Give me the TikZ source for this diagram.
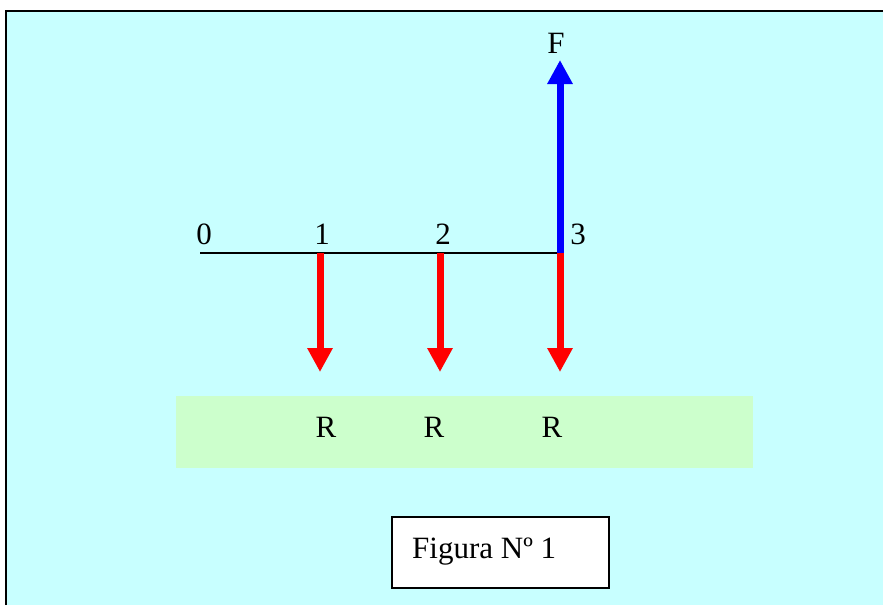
\documentclass[tikz,border=0pt]{standalone}
\usepackage{fontspec}
\setmainfont{Liberation Serif}
\usetikzlibrary{arrows.meta}
\definecolor{bgcyan}{RGB}{200,255,255}
\definecolor{bggreen}{RGB}{204,255,204}
\definecolor{fred}{RGB}{255,0,0}
\definecolor{fblue}{RGB}{0,0,255}
\tikzset{
  lbl/.style={inner sep=0pt, font=\fontsize{31}{36}\selectfont},
  force/.style={line width=7pt, -{Triangle[width=24pt,length=24pt]}},
}
\begin{document}
\begin{tikzpicture}[x=1pt,y=-1pt]
\useasboundingbox (0,0) rectangle (883,605);
\fill[white] (0,0) rectangle (883,605);
\fill[bgcyan] (6,11) rectangle (883,605);
\draw[line width=2.5pt] (6,605) -- (6,11) -- (883,11);
% green strip
\fill[bggreen] (176,396) rectangle (753,468);
% beam
\coordinate (p0) at (200,253);
\coordinate (p1) at (320,253);
\coordinate (p2) at (440,253);
\coordinate (p3) at (560,253);
\draw[line width=1.5pt] (p0) -- (p3);
% force endpoints
\coordinate (r1) at (320,372);
\coordinate (r2) at (440,372);
\coordinate (r3) at (560,372);
\coordinate (ft) at (560,60);
\draw[force, fred] (p1) -- (r1);
\draw[force, fred] (p2) -- (r2);
\draw[force, fred] (p3) -- (r3);
\draw[force, fblue] (p3) -- (ft);
% labels
\node[lbl, anchor=base] (l0) at (204,244) {0};
\node[lbl, anchor=base] (l1) at (322,244) {1};
\node[lbl, anchor=base] (l2) at (443,244) {2};
\node[lbl, anchor=base] (l3) at (578,244) {3};
\node[lbl, anchor=base] (lf) at (556,53) {F};
\node[lbl, anchor=base] (ra) at (326,437) {R};
\node[lbl, anchor=base] (rb) at (434,437) {R};
\node[lbl, anchor=base] (rc) at (552,437) {R};
% figure caption box
\draw[line width=1.5pt, fill=white] (392,517) rectangle (609,588);
\node[lbl, anchor=base west] (cap) at (412,558) {Figura Nº 1};
\end{tikzpicture}
\end{document}
